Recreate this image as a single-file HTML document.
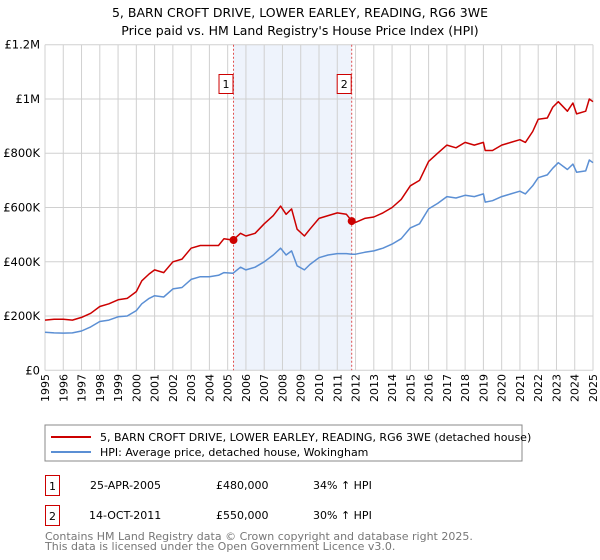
<!DOCTYPE html>
<html><head><meta charset="utf-8"><style>
body{margin:0;background:#fff;font-family:"Liberation Sans","DejaVu Sans",sans-serif;}
#wrap{position:relative;width:600px;height:560px;overflow:hidden;}
</style></head><body><div id="wrap">
<svg id="svg" width="600" height="560" xmlns="http://www.w3.org/2000/svg" font-family="DejaVu Sans, Liberation Sans, sans-serif">
<text x="300" y="17" text-anchor="middle" font-size="12.5" fill="#000">5, BARN CROFT DRIVE, LOWER EARLEY, READING, RG6 3WE</text>
<text x="300" y="35" text-anchor="middle" font-size="12.5" fill="#000">Price paid vs. HM Land Registry's House Price Index (HPI)</text>
<g id="grid"></g><g id="series"></g><g id="axes"></g>
<rect x="45" y="425" width="477" height="36" fill="#fff" stroke="#888"/>
<line x1="51" y1="437" x2="91" y2="437" stroke="#cc0000" stroke-width="2"/>
<text x="100" y="441" font-size="11">5, BARN CROFT DRIVE, LOWER EARLEY, READING, RG6 3WE (detached house)</text>
<line x1="51" y1="452" x2="91" y2="452" stroke="#5b8fd4" stroke-width="2"/>
<text x="100" y="456" font-size="11">HPI: Average price, detached house, Wokingham</text>
<rect x="45.5" y="475.5" width="14" height="20" fill="#fff" stroke="#cc0000"/>
<text x="52.5" y="490" text-anchor="middle" font-size="11">1</text>
<text x="90" y="489" font-size="11">25-APR-2005</text>
<text x="216" y="489" font-size="11">£480,000</text>
<text x="313" y="489" font-size="11">34% ↑ HPI</text>
<rect x="45.5" y="505.5" width="14" height="20" fill="#fff" stroke="#cc0000"/>
<text x="52.5" y="520" text-anchor="middle" font-size="11">2</text>
<text x="89" y="519" font-size="11">14-OCT-2011</text>
<text x="216" y="519" font-size="11">£550,000</text>
<text x="313" y="519" font-size="11">30% ↑ HPI</text>
<text x="45" y="540" font-size="11" fill="#777">Contains HM Land Registry data © Crown copyright and database right 2025.</text>
<text x="45" y="550" font-size="11" fill="#777">This data is licensed under the Open Government Licence v3.0.</text>
</svg></div>
<script>
const redYears=[1995,1995.5,1996,1996.5,1997,1997.5,1998,1998.5,1999,1999.5,2000,2000.3,2000.7,2001,2001.5,2002,2002.5,2003,2003.5,2004,2004.5,2004.8,2005.3,2005.7,2006,2006.5,2007,2007.5,2007.9,2008.2,2008.5,2008.8,2009.2,2009.5,2010,2010.5,2011,2011.5,2011.8,2012,2012.5,2013,2013.5,2014,2014.5,2015,2015.5,2016,2016.5,2017,2017.5,2018,2018.5,2019,2019.1,2019.5,2020,2020.5,2021,2021.3,2021.7,2022,2022.5,2022.8,2023.1,2023.6,2023.9,2024.1,2024.6,2024.8,2025];
const redValues=[185,188,188,185,195,210,235,245,260,265,290,330,355,370,360,400,410,450,460,460,460,485,480,505,495,505,540,570,605,575,595,520,495,520,560,570,580,575,550,545,560,565,580,600,630,680,700,770,800,830,820,840,830,840,810,810,830,840,850,840,880,925,930,970,990,955,985,945,955,1000,990];
const hpiYears=redYears;
const hpiValues=[140,138,137,138,145,160,180,185,197,200,220,245,265,275,270,300,305,335,345,345,350,360,358,380,370,380,400,425,450,425,440,385,370,390,415,425,430,430,428,428,435,440,450,465,485,525,540,595,615,640,635,645,640,650,620,625,640,650,660,650,680,710,720,745,765,740,760,730,735,775,765];
const saleYears=[2005.32,2011.79];
const saleValues=[480,550];
const saleLabels=["1","2"];
const yTicks=[0,200,400,600,800,1000,1200];
const yTickLabels=["£0","£200K","£400K","£600K","£800K","£1M","£1.2M"];
const NS="http://www.w3.org/2000/svg";
const X0=45,X1=593,Y0=370.3,Y1=44.7;
const xs=y=>X0+(y-1995)*(X1-X0)/30;
const ys=v=>Y0-v*(Y0-Y1)/1200;
function mk(tag,attrs,parent){const e=document.createElementNS(NS,tag);for(const k in attrs)e.setAttribute(k,attrs[k]);parent.appendChild(e);return e;}
const grid=document.getElementById('grid'),ser=document.getElementById('series'),ax=document.getElementById('axes');
let band=mk('rect',{x:xs(saleYears[0]),y:Y1,width:xs(saleYears[1])-xs(saleYears[0]),height:Y0-Y1,fill:'#eef3fc'},grid);


for(let yr=1995;yr<=2025;yr++){
 const l=mk('line',{x1:xs(yr),x2:xs(yr),y1:Y1,y2:Y0,stroke:'#d0d0d0','stroke-width':1},grid);
 
 
 const t=mk('text',{x:0,y:0,'font-size':11,'text-anchor':'end',transform:`translate(${xs(yr)+4},374) rotate(-90)`},ax);
 t.textContent=String(yr);
 
 
}
yTicks.forEach((v,i)=>{
 const l=mk('line',{x1:X0,x2:X1,y1:ys(v),y2:ys(v),stroke:'#d0d0d0','stroke-width':1},grid);
 
 
 const t=mk('text',{x:40,y:ys(v)+4,'font-size':11.5,'text-anchor':'end'},ax);
 t.textContent=yTickLabels[i];
 
 
});
saleYears.forEach((yr,i)=>{
 const l=mk('line',{x1:xs(yr),x2:xs(yr),y1:Y1,y2:Y0,stroke:'#e05050','stroke-width':1,'stroke-dasharray':'2,2'},ser);
 
 
 const r=mk('rect',{x:xs(yr)-14.5,y:74.5,width:14,height:19,fill:'#fff',stroke:'#cc0000'},ser);
 
 
 const t=mk('text',{x:xs(yr)-7.5,y:88,'font-size':11,'text-anchor':'middle'},ser);
 t.textContent=saleLabels[i];
 
 
});
function line(xsArr,vals,color,name){
 const d=xsArr.map((y,i)=>(i?'L':'M')+xs(y).toFixed(1)+','+ys(vals[i]).toFixed(1)).join('');
 const p=mk('path',{d:d,fill:'none',stroke:color,'stroke-width':1.5,'stroke-linejoin':'round'},ser);
 
 
}
line(hpiYears,hpiValues,'#5b8fd4','hpi-line');
line(redYears,redValues,'#cc0000','property-price-line');
saleYears.forEach((yr,i)=>{
 const c=mk('circle',{cx:xs(yr),cy:ys(saleValues[i]),r:4,fill:'#cc0000'},ser);
 
 
});
</script></body></html>
